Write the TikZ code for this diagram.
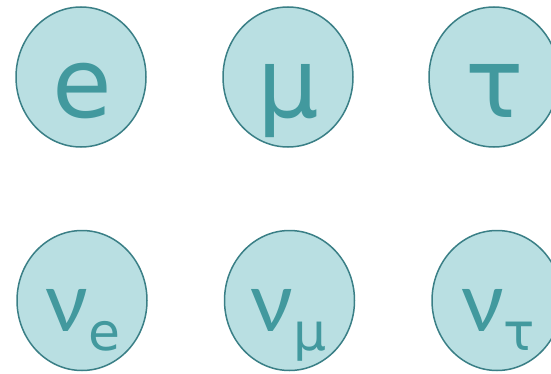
\documentclass[tikz,border=0pt]{standalone}
\usepackage{fontspec}
\setmainfont{DejaVu Sans}
\newfontfamily\grk{Lato}
\usetikzlibrary{shapes.geometric}
\definecolor{fillc}{HTML}{B9DFE2}
\definecolor{linec}{HTML}{3A7F86}
\definecolor{textc}{HTML}{42999E}
\tikzset{
  ell/.style={ellipse, draw=linec, fill=fillc, line width=1.5pt, minimum width=130pt, minimum height=140pt, inner sep=0pt},
  big/.style={text=textc, inner sep=0pt, anchor=base, font=\fontsize{97}{97}\selectfont},
  mid/.style={text=textc, inner sep=0pt, anchor=base, font=\fontsize{77}{77}\selectfont},
}
\newcommand{\subsc}[1]{\raisebox{-19pt}{\fontsize{52}{52}\selectfont #1}}
\newcommand{\nuu}{{\grk\fontsize{83}{83}\selectfont ν}}
\begin{document}
\begin{tikzpicture}[x=1pt,y=1pt]
\useasboundingbox (0,0) rectangle (551,373);
\node[ell] (ee) at (81,296) {};
\node[ell] (em) at (288,296) {};
\node[ell] (et) at (494,296) {};
\node[ell] (ene) at (82,72.5) {};
\node[ell] (enm) at (289.5,72.5) {};
\node[ell] (ent) at (497,72.5) {};
\node[big] (te) at (82,256) {e};
\node[big] (tm) at (288,256) {μ};
\node[big] (tt) at (494.5,256) {τ};
\node[mid] (tne) at (83,42) {\nuu\subsc{e}};
\node[mid] (tnm) at (288.5,42) {\nuu\subsc{μ}};
\node[mid] (tnt) at (498,42) {\nuu\subsc{τ}};
\end{tikzpicture}
\end{document}
